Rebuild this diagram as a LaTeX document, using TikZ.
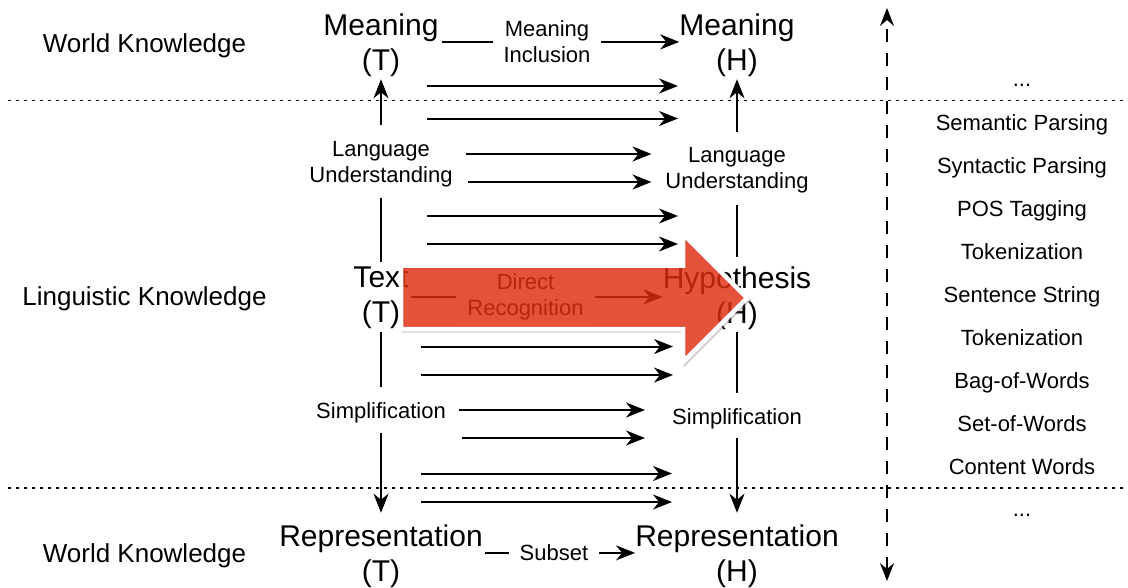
\documentclass[tikz,border=0pt]{standalone}
\usepackage{fontspec}
\setmainfont{Liberation Sans}
\usetikzlibrary{arrows.meta}
\definecolor{recog}{RGB}{223,45,15}
\begin{document}
\begin{tikzpicture}[x=1pt,y=-1pt,
  big/.style={font=\fontsize{30}{35}\selectfont, align=center, inner sep=0pt},
  mid/.style={font=\fontsize{22}{26}\selectfont, align=center, inner sep=0pt},
  side/.style={font=\fontsize{26}{30}\selectfont, inner sep=0pt, anchor=base},
  level/.style={font=\fontsize{22}{26}\selectfont, inner sep=0pt, anchor=base},
  tip/.style={-{Stealth[length=19pt,width=15pt,inset=6pt]}},
  arr/.style={line width=2pt, tip},
  conn/.style={line width=2pt},
  gapl/.style={mid, fill=white, inner xsep=11pt, inner ysep=2pt},
  sep/.style={line width=1.8pt, dash pattern=on 3pt off 5pt},
  axis/.style={line width=1.6pt, dash pattern=on 13pt off 11pt,
    {Stealth[length=18pt,width=14pt,inset=6pt]}-{Stealth[length=18pt,width=14pt,inset=6pt]}},
  bigarrow/.style={fill=recog, fill opacity=0.82, draw=white, line width=4.5pt, line join=miter},
]
\useasboundingbox (0,0) rectangle (1128,587);

% level separators
\coordinate (d1a) at (8,100.5);  \coordinate (d1b) at (1128,100.5);
\coordinate (d2a) at (8,488.3);  \coordinate (d2b) at (1128,488.3);
\draw[sep] (d1a) -- (d1b);
\draw[sep] (d2a) -- (d2b);

% knowledge levels on the left
\node[side] (wk1) at (144.5,52) {World Knowledge};
\node[side] (lk)  at (144.5,305) {Linguistic Knowledge};
\node[side] (wk2) at (144.5,562) {World Knowledge};

% text column
\node[big] (mT)  at (381,44.9)  {Meaning\\(T)};
\node[mid] (luT) at (381,163.9) {Language\\Understanding};
\node[big] (tT)  at (381,297.9) {Text\\(T)};
\node[mid] (sT)  at (381,412.7) {Simplification};
\node[big] (rT)  at (381,555.9) {Representation\\(T)};

% hypothesis column
\node[big] (mH)  at (737,44.9)  {Meaning\\(H)};
\node[mid] (luH) at (737,170.7) {Language\\Understanding};
\node[big] (tH)  at (737,297.9) {Hypothesis\\(H)};
\node[mid] (sH)  at (737,418.4) {Simplification};
\node[big] (rH)  at (737,555.9) {Representation\\(H)};

% vertical chains
\draw[arr,  shorten <=15.7pt, shorten >=2.7pt]  (luT.north) -- (mT.south);
\draw[conn, shorten <=11pt,   shorten >=4.5pt]  (luT.south) -- (tT.north);
\draw[conn, shorten <=2.7pt,  shorten >=15.5pt] (tT.south)  -- (sT.north);
\draw[arr,  shorten <=10pt,   shorten >=11.5pt] (sT.south)  -- (rT.north);

\draw[arr,  shorten <=15.5pt, shorten >=2.7pt]  (luH.north) -- (mH.south);
\draw[conn, shorten <=11pt,   shorten >=9.5pt]  (luH.south) -- (tH.north);
\draw[conn, shorten <=2.7pt,  shorten >=15.3pt] (tH.south)  -- (sH.north);
\draw[arr,  shorten <=9.4pt,  shorten >=11.5pt] (sH.south)  -- (rH.north);

% relations between the columns
\draw[arr, shorten <=3pt] ([yshift=3pt]mT.east) --
  node[gapl, pos=0.45] (mi) {Meaning\\Inclusion} ([yshift=3pt]mH.west);
\draw[arr, shorten <=2pt] ([yshift=3pt]rT.east) --
  node[gapl, pos=0.467] (sub) {Subset} ([yshift=3pt]rH.west);
\draw[arr, shorten <=2pt] ([yshift=1pt]tT.east) --
  node[gapl, pos=0.46] (dr) {Direct\\Recognition} ([yshift=1pt]tH.west);

% parallel mappings
\foreach \n/\y/\xa/\xb in {a/86/427/678, b/118.5/427/678, c/154/465.5/651.5,
    d/182/468/651.5, e/216/427/678, f/244/427/678, g/346.5/421/673,
    h/375/421/673, i/410/459/645, j/438/462/645, k/473.5/421/672, l/502/421/672} {
  \coordinate (\n0) at (\xa,\y);
  \coordinate (\n1) at (\xb,\y);
  \draw[arr] (\n0) -- (\n1);
}

% processing levels on the right
\coordinate (axB) at (887,581);
\coordinate (axT) at (887,8);
\draw[axis] (axB) -- (axT);
\node[level] (l0) at (1022,86)  {...};
\node[level] (l1) at (1022,130) {Semantic Parsing};
\node[level] (l2) at (1022,173) {Syntactic Parsing};
\node[level] (l3) at (1022,216) {POS Tagging};
\node[level] (l4) at (1022,259) {Tokenization};
\node[level] (l5) at (1022,302) {Sentence String};
\node[level] (l6) at (1022,345) {Tokenization};
\node[level] (l7) at (1022,388) {Bag-of-Words};
\node[level] (l8) at (1022,431) {Set-of-Words};
\node[level] (l9) at (1022,474) {Content Words};
\node[level] (l10) at (1022,516) {...};

% highlighted direct route
\draw[gray, opacity=0.35, line width=3pt, line join=miter, shift={(2,2)}]
  (401,265.5) -- (683,265.5) -- (683,234) -- (747,298) -- (683,362) -- (683,329) -- (401,329) -- cycle;
\path[bigarrow]
  (401,265.5) -- (683,265.5) -- (683,234) -- (747,298) -- (683,362) -- (683,329) -- (401,329) -- cycle;
\end{tikzpicture}
\end{document}
